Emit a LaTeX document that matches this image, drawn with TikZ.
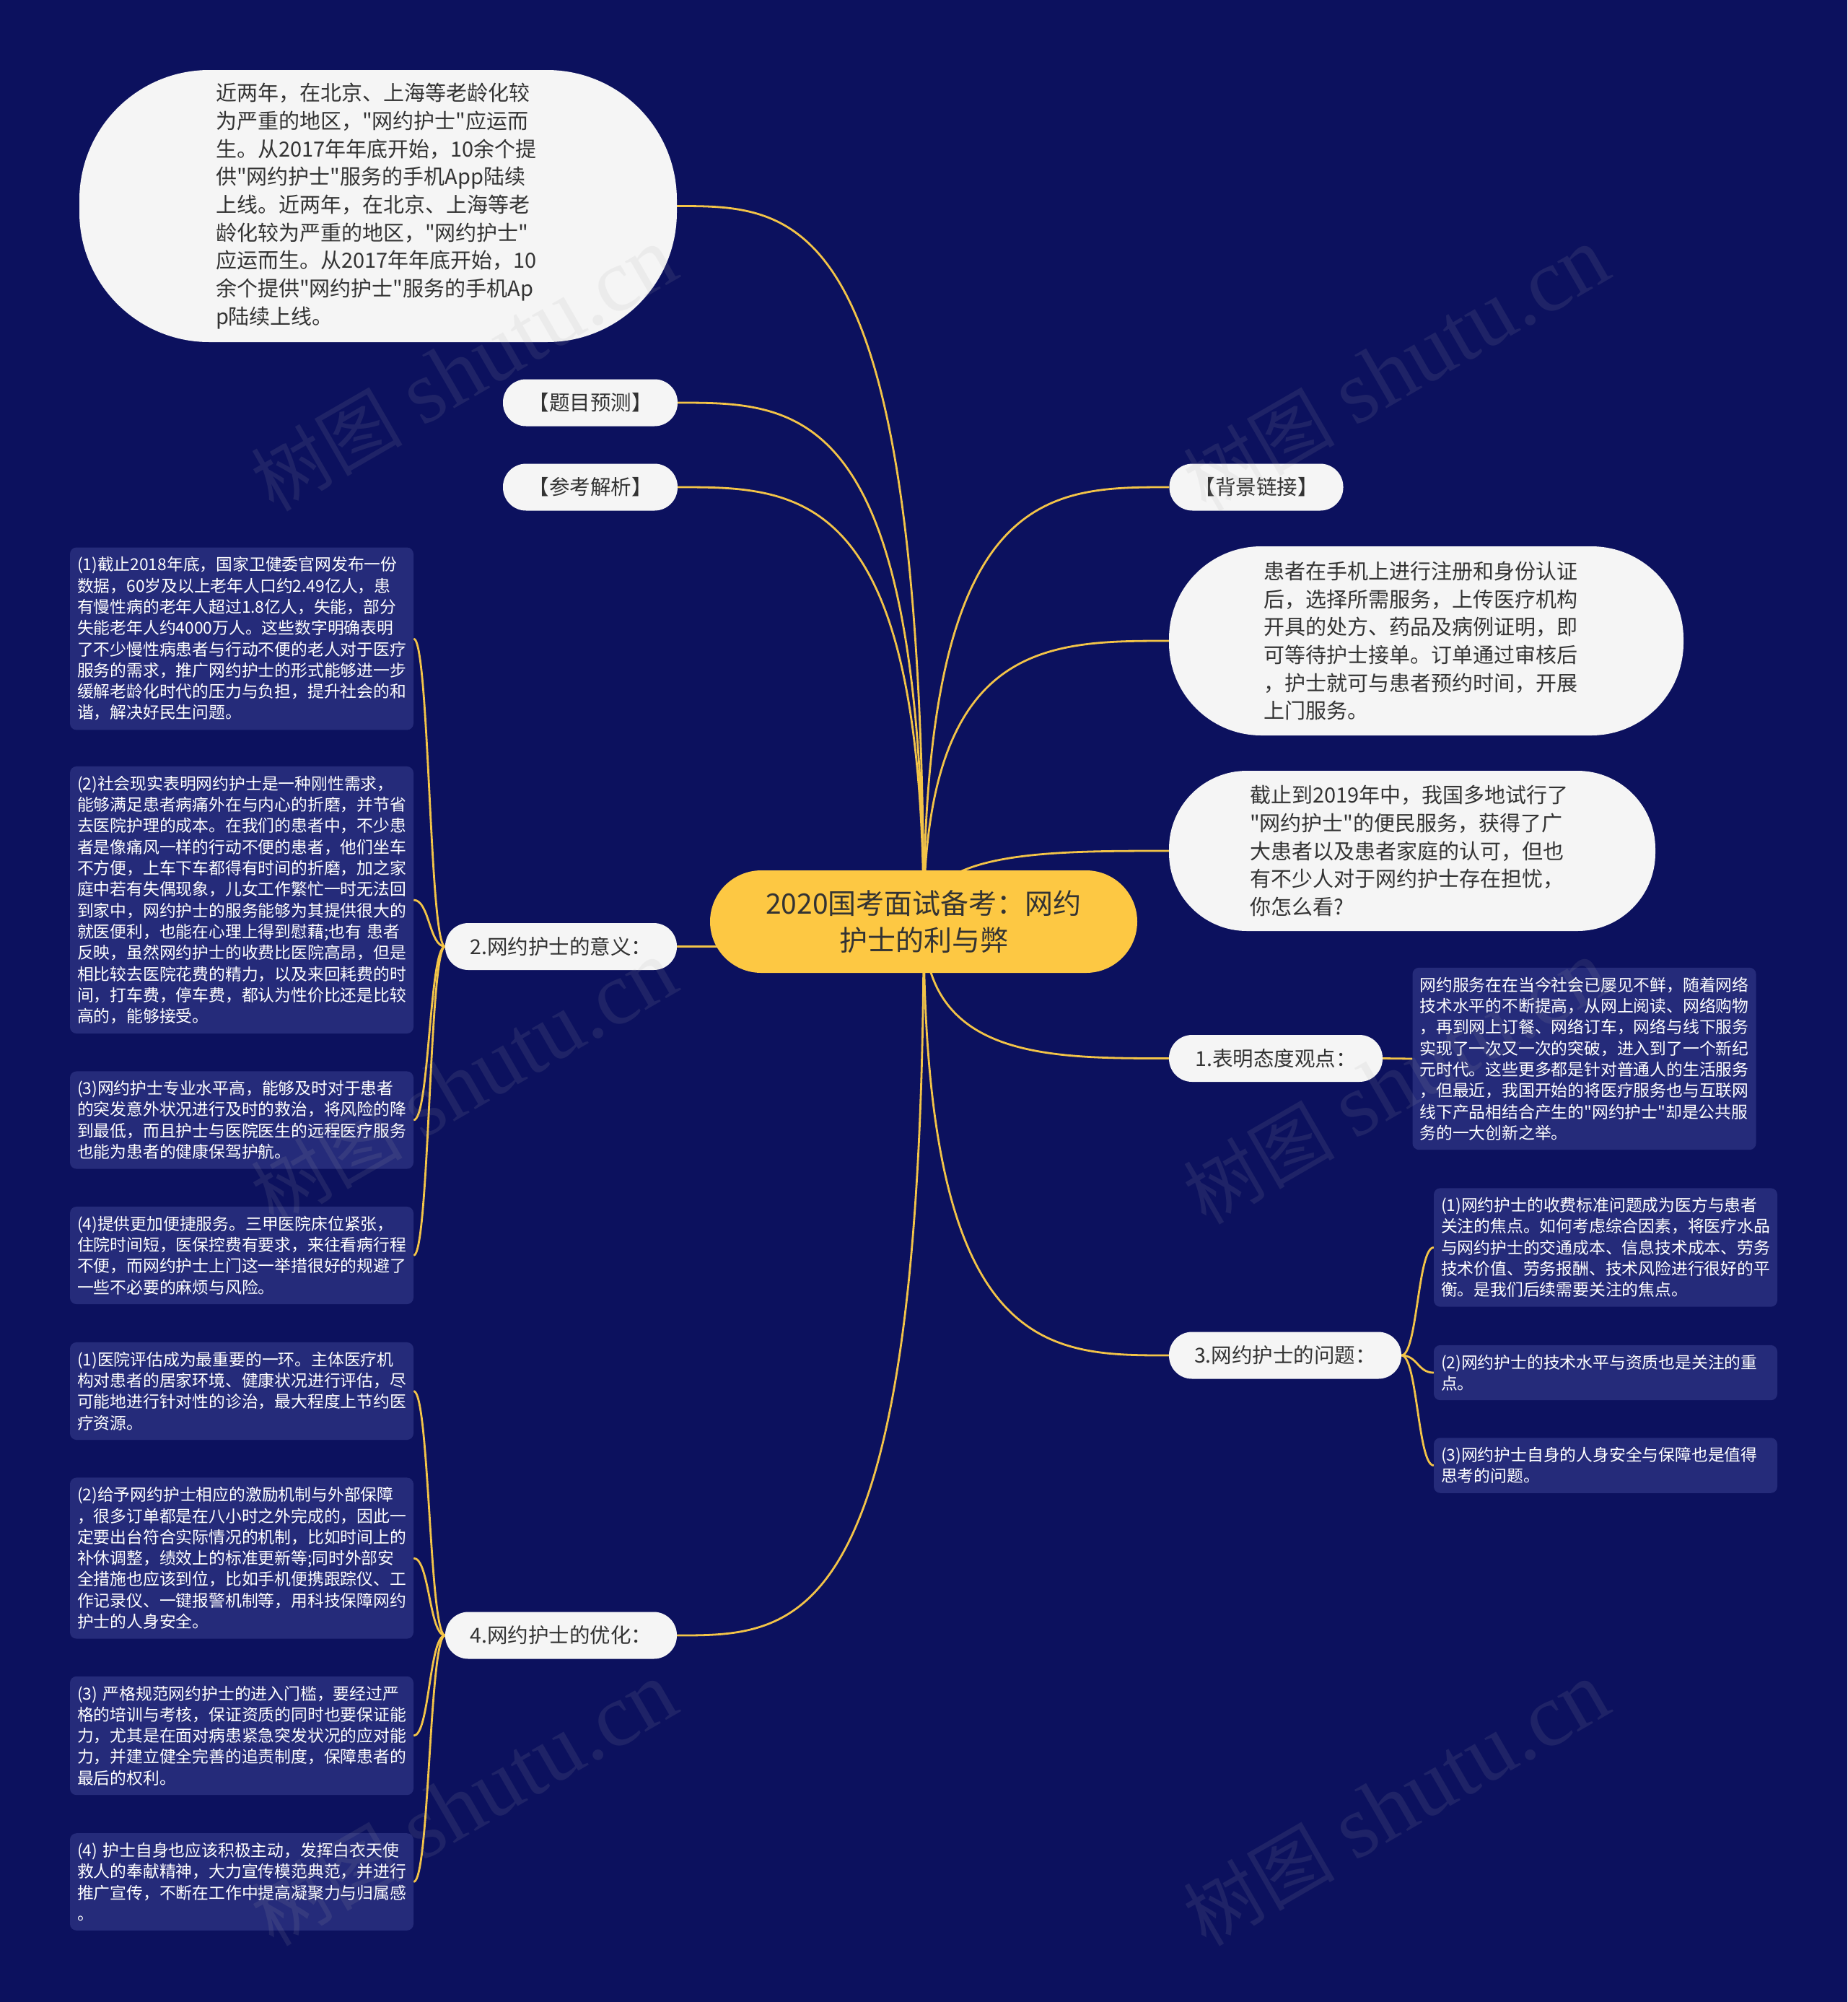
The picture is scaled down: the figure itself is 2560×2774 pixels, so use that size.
\documentclass[tikz,border=0pt]{standalone}
\usepackage{fontspec}
\setmainfont{Noto Sans CJK SC}
\newfontfamily\cjkfont{Noto Sans CJK SC}
\newfontfamily\wmfont{Liberation Serif}
\usetikzlibrary{calc}
\pgfdeclarelayer{bglayer}
\pgfdeclarelayer{edgelayer}
\pgfdeclarelayer{wmlayer}
\pgfsetlayers{bglayer,edgelayer,main,wmlayer}
\definecolor{bgnavy}{RGB}{12,17,94}
\definecolor{leafblue}{RGB}{37,43,122}
\definecolor{gold}{RGB}{243,196,72}
\definecolor{pillwhite}{RGB}{245,245,245}
\definecolor{inkdark}{RGB}{51,51,51}
\definecolor{centeryellow}{RGB}{253,200,67}
\definecolor{wmgray}{RGB}{170,170,170}
\tikzset{
  leaf/.style={fill=leafblue, rounded corners=9pt, text=white,
    font=\cjkfont\fontsize{22.8}{29.3}\selectfont, text width=456pt, align=left,
    inner xsep=10pt, inner ysep=13pt},
  pill/.style={fill=pillwhite, text=inkdark, rounded corners=32pt,
    font=\cjkfont\fontsize{28.5}{32}\selectfont, minimum height=65pt, inner xsep=8pt},
  bubble/.style={fill=pillwhite, text=inkdark,
    font=\cjkfont\fontsize{29}{38.7}\selectfont, align=left, text width=450pt},
  hub/.style={fill=centeryellow, text=inkdark, rounded corners=71pt,
    font=\cjkfont\fontsize{39}{51}\selectfont, align=center,
    minimum width=592pt, minimum height=142pt},
  conn/.style={draw=gold, line width=2.8pt},
  wm/.style={text=wmgray, opacity=0.12, font=\fontsize{124}{130}\selectfont}
}
\begin{document}
\begin{tikzpicture}[x=1pt,y=-1pt]
\useasboundingbox (0,0) rectangle (2560,2774);
\begin{pgfonlayer}{bglayer}
\fill[bgnavy] (0,0) rectangle (2560,2774);
\end{pgfonlayer}

% center
\node[hub] (ctr) at (1280,1277) {2020国考面试备考：网约\\护士的利与弊};

% left top
\node[bubble, minimum width=828pt, minimum height=377pt, rounded corners=180pt] (c0) at (524,285.5)
{近两年，在北京、上海等老龄化较\\为严重的地区，"网约护士"应运而\\生。从2017年年底开始，10余个提\\供"网约护士"服务的手机App陆续\\上线。近两年，在北京、上海等老\\龄化较为严重的地区，"网约护士"\\应运而生。从2017年年底开始，10\\余个提供"网约护士"服务的手机Ap\\p陆续上线。};
\node[pill, minimum width=242pt] (t1) at (818,558) {【题目预测】};
\node[pill, minimum width=242pt] (t2) at (818,675) {【参考解析】};

% right top
\node[pill, minimum width=241pt] (bj) at (1741,675) {【背景链接】};
\node[bubble, minimum width=713pt, minimum height=262pt, rounded corners=128pt] (c2) at (1976.5,888)
{患者在手机上进行注册和身份认证\\后，选择所需服务，上传医疗机构\\开具的处方、药品及病例证明，即\\可等待护士接单。订单通过审核后\\，护士就可与患者预约时间，开展\\上门服务。};
\node[bubble, minimum width=674pt, minimum height=222pt, rounded corners=108pt] (c3) at (1957,1179)
{截止到2019年中，我国多地试行了\\"网约护士"的便民服务，获得了广\\大患者以及患者家庭的认可，但也\\有不少人对于网约护士存在担忧，\\你怎么看?};

% branch labels
\node[pill, minimum width=321pt] (yi) at (777.5,1311.5) {2.网约护士的意义：};
\node[pill, minimum width=321pt] (you) at (777.5,2266) {4.网约护士的优化：};
\node[pill, minimum width=296pt] (biao) at (1768,1466.5) {1.表明态度观点：};
\node[pill, minimum width=322pt] (wen) at (1781,1878) {3.网约护士的问题：};

% left leaves: meaning
\node[leaf] (l1) at (335,885) {(1)截止2018年底，国家卫健委官网发布一份\\数据，60岁及以上老年人口约2.49亿人，患\\有慢性病的老年人超过1.8亿人，失能，部分\\失能老年人约4000万人。这些数字明确表明\\了不少慢性病患者与行动不便的老人对于医疗\\服务的需求，推广网约护士的形式能够进一步\\缓解老龄化时代的压力与负担，提升社会的和\\谐，解决好民生问题。};
\node[leaf] (l2) at (335,1247) {(2)社会现实表明网约护士是一种刚性需求，\\能够满足患者病痛外在与内心的折磨，并节省\\去医院护理的成本。在我们的患者中，不少患\\者是像痛风一样的行动不便的患者，他们坐车\\不方便，上车下车都得有时间的折磨，加之家\\庭中若有失偶现象，儿女工作繁忙一时无法回\\到家中，网约护士的服务能够为其提供很大的\\就医便利，也能在心理上得到慰藉;也有 患者\\反映，虽然网约护士的收费比医院高昂，但是\\相比较去医院花费的精力，以及来回耗费的时\\间，打车费，停车费，都认为性价比还是比较\\高的，能够接受。};
\node[leaf] (l3) at (335,1552) {(3)网约护士专业水平高，能够及时对于患者\\的突发意外状况进行及时的救治，将风险的降\\到最低，而且护士与医院医生的远程医疗服务\\也能为患者的健康保驾护航。};
\node[leaf] (l4) at (335,1739.5) {(4)提供更加便捷服务。三甲医院床位紧张，\\住院时间短，医保控费有要求，来往看病行程\\不便，而网约护士上门这一举措很好的规避了\\一些不必要的麻烦与风险。};

% left leaves: optimisation
\node[leaf] (o1) at (335,1927.5) {(1)医院评估成为最重要的一环。主体医疗机\\构对患者的居家环境、健康状况进行评估，尽\\可能地进行针对性的诊治，最大程度上节约医\\疗资源。};
\node[leaf] (o2) at (335,2159) {(2)给予网约护士相应的激励机制与外部保障\\，很多订单都是在八小时之外完成的，因此一\\定要出台符合实际情况的机制，比如时间上的\\补休调整，绩效上的标准更新等;同时外部安\\全措施也应该到位，比如手机便携跟踪仪、工\\作记录仪、一键报警机制等，用科技保障网约\\护士的人身安全。};
\node[leaf] (o3) at (335,2405) {(3) 严格规范网约护士的进入门槛，要经过严\\格的培训与考核，保证资质的同时也要保证能\\力，尤其是在面对病患紧急突发状况的应对能\\力，并建立健全完善的追责制度，保障患者的\\最后的权利。};
\node[leaf] (o4) at (335,2607.5) {(4) 护士自身也应该积极主动，发挥白衣天使\\救人的奉献精神，大力宣传模范典范，并进行\\推广宣传，不断在工作中提高凝聚力与归属感\\。};

% right leaves
\node[leaf] (r1) at (2195.5,1467) {网约服务在在当今社会已屡见不鲜，随着网络\\技术水平的不断提高，从网上阅读、网络购物\\，再到网上订餐、网络订车，网络与线下服务\\实现了一次又一次的突破，进入到了一个新纪\\元时代。这些更多都是针对普通人的生活服务\\，但最近，我国开始的将医疗服务也与互联网\\线下产品相结合产生的"网约护士"却是公共服\\务的一大创新之举。};
\node[leaf] (p1) at (2225,1728.5) {(1)网约护士的收费标准问题成为医方与患者\\关注的焦点。如何考虑综合因素，将医疗水品\\与网约护士的交通成本、信息技术成本、劳务\\技术价值、劳务报酬、技术风险进行很好的平\\衡。是我们后续需要关注的焦点。};
\node[leaf] (p2) at (2225,1902) {(2)网约护士的技术水平与资质也是关注的重\\点。};
\node[leaf] (p3) at (2225,2030.5) {(3)网约护士自身的人身安全与保障也是值得\\思考的问题。};

% connectors
\begin{pgfonlayer}{edgelayer}
\foreach \tg/\an in {c0/east,t1/east,t2/east,yi/east,you/east,bj/west,c2/west,c3/west,biao/west,wen/west}{
  \draw[conn] (ctr.center) .. controls (ctr.center |- \tg.\an) and ($(ctr.center |- \tg.\an)!0.5!(\tg.\an)$) .. (\tg.\an);
}
\foreach \lf in {l1,l2,l3,l4}{
  \draw[conn] (yi.west) .. controls ($(yi.west)+(-22,0)$) and ($(\lf.east)+(22,0)$) .. (\lf.east);
}
\foreach \lf in {o1,o2,o3,o4}{
  \draw[conn] (you.west) .. controls ($(you.west)+(-22,0)$) and ($(\lf.east)+(22,0)$) .. (\lf.east);
}
\foreach \lf in {p1,p2,p3}{
  \draw[conn] (wen.east) .. controls ($(wen.east)+(22,0)$) and ($(\lf.west)+(-22,0)$) .. (\lf.west);
}
\draw[conn] (biao.east) -- (r1.west);
\end{pgfonlayer}

% watermarks
\begin{pgfonlayer}{wmlayer}
\foreach \wx/\wy [count=\i] in {643/512,1935/512,643/1500,1935/1500,643/2500,1935/2500}{
  \node[wm, rotate=30] (wm\i) at (\wx,\wy) {{\cjkfont\fontsize{105}{110}\selectfont 树图} {\wmfont shutu.cn}};
}
\end{pgfonlayer}
\end{tikzpicture}
\end{document}
